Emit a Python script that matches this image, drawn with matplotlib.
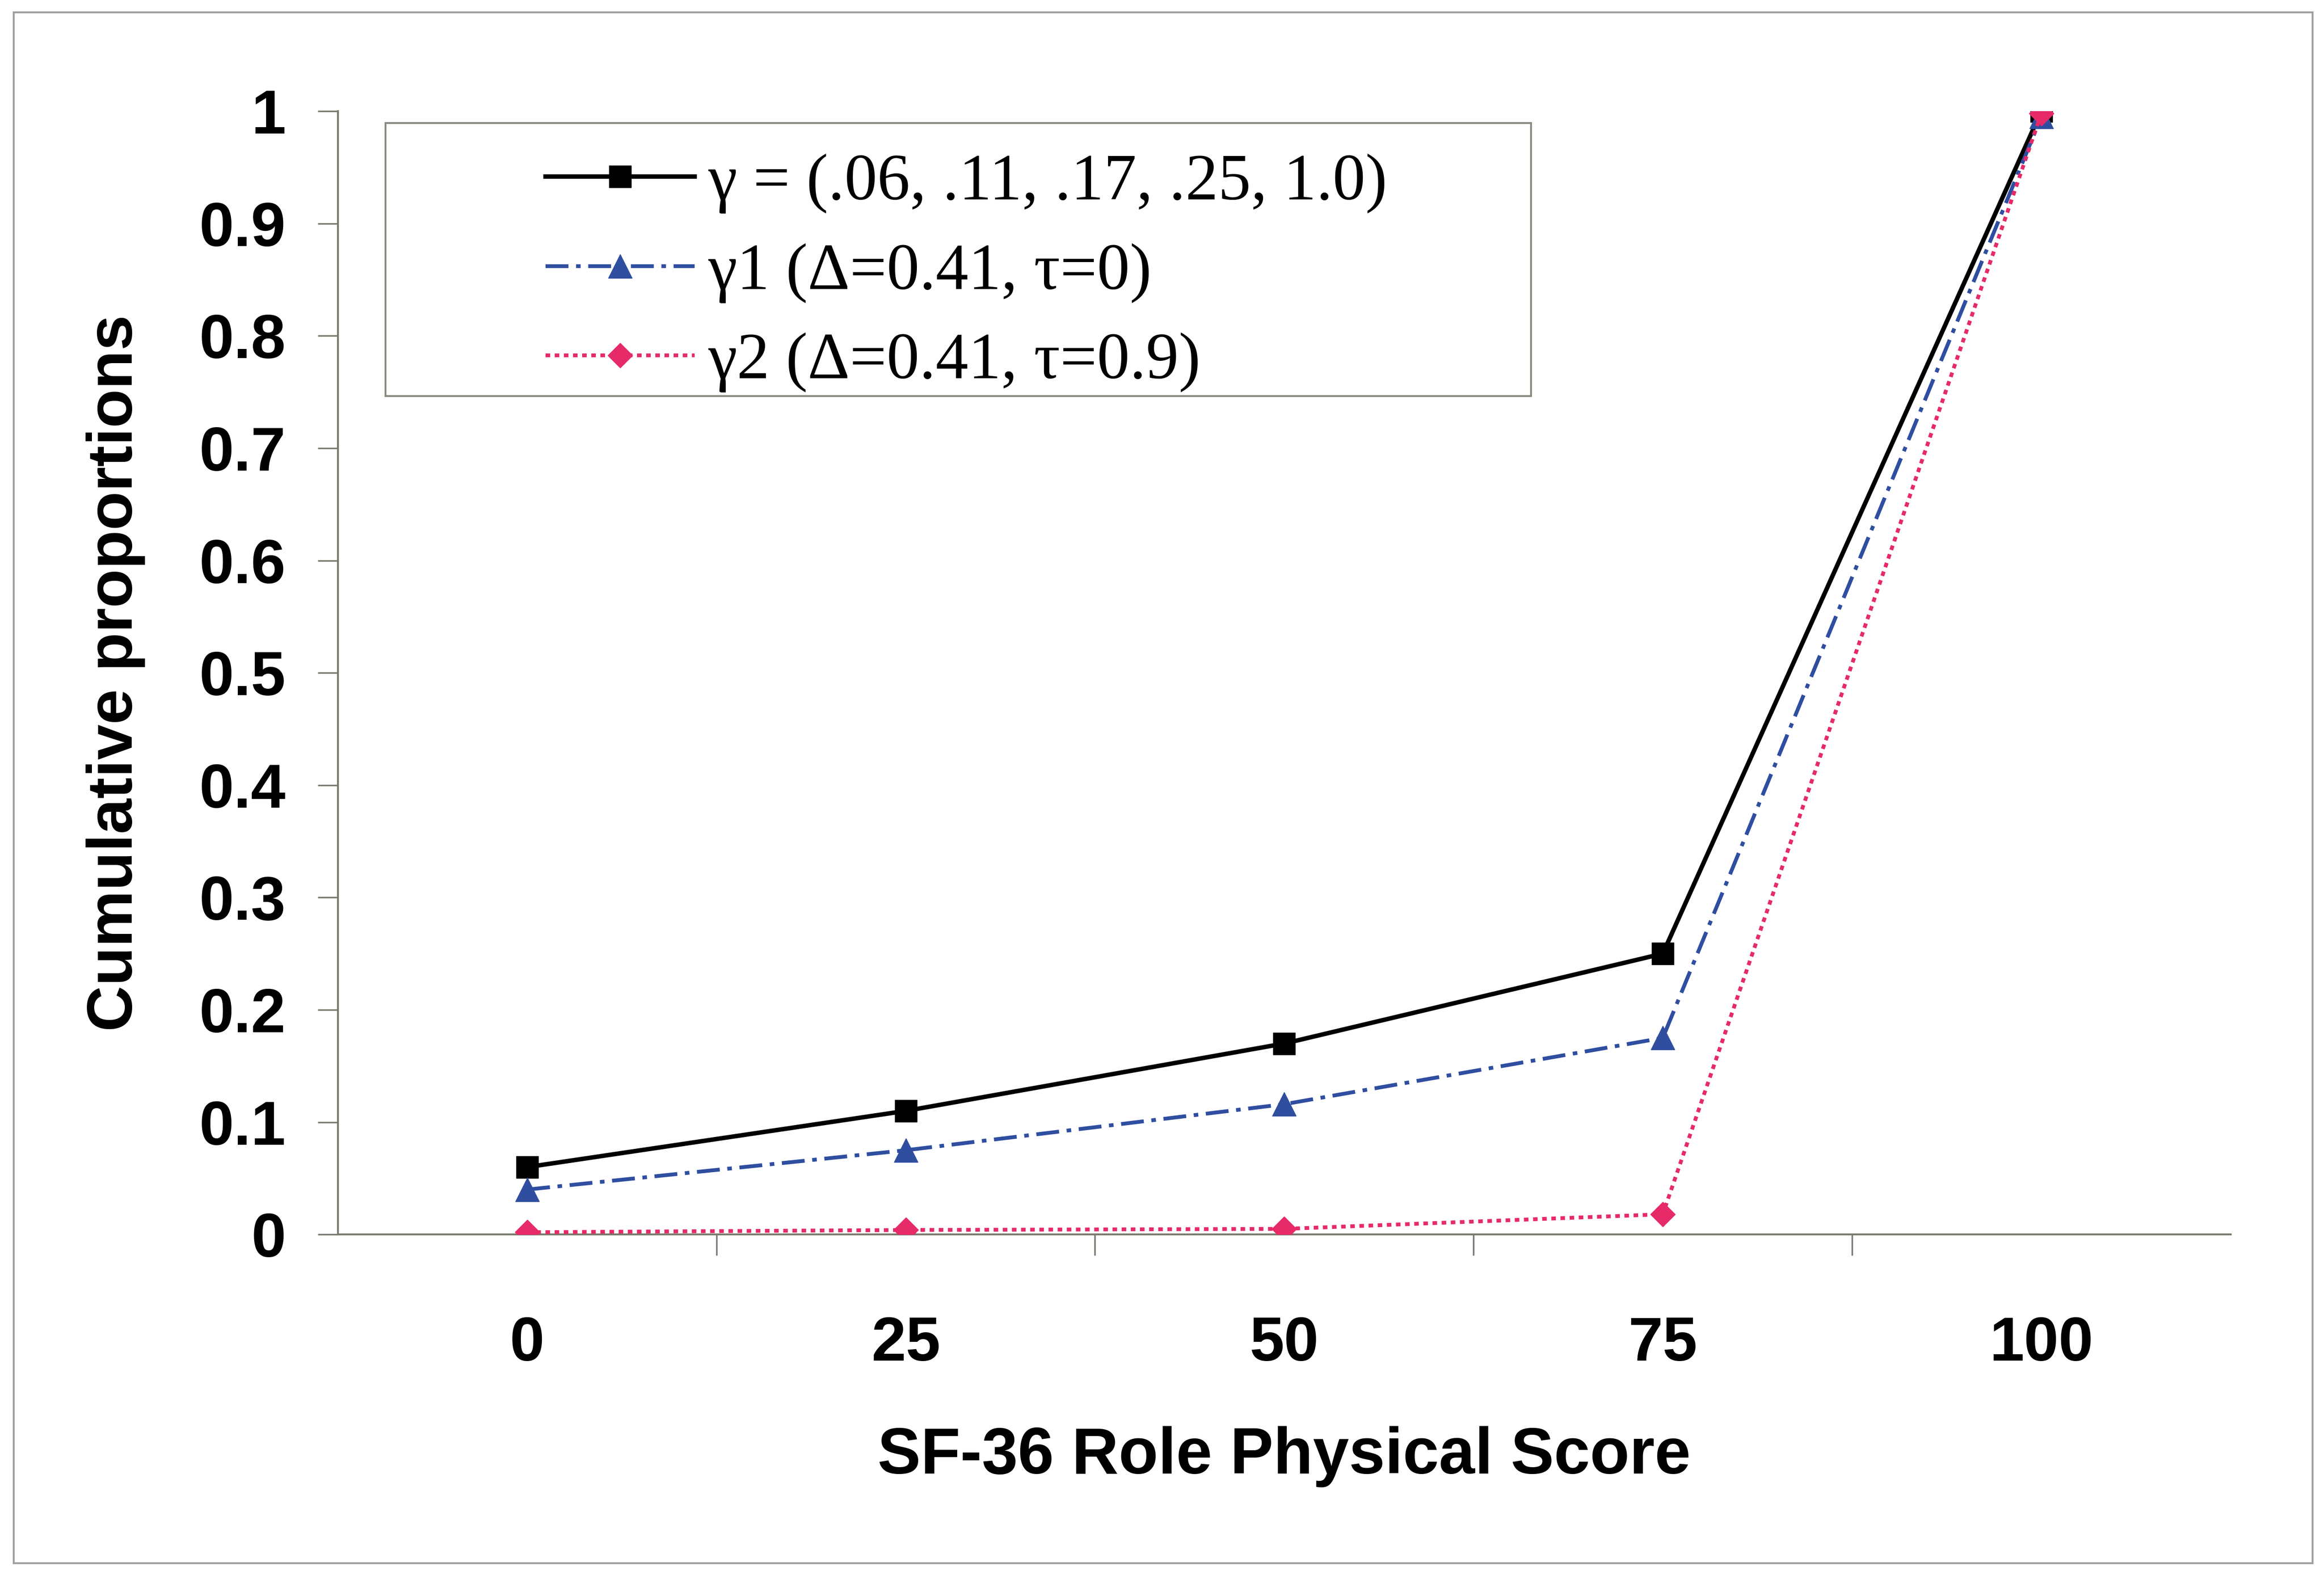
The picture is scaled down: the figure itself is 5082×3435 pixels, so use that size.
import numpy as np
import matplotlib.pyplot as plt
from matplotlib.patches import Rectangle

# Data
scores = ['0', '25', '50', '75', '100']
gamma = [0.06, 0.11, 0.17, 0.25, 1.0]
gamma1 = [0.04, 0.075, 0.116, 0.175, 0.995]
gamma2 = [0.002, 0.004, 0.005, 0.018, 0.998]
labels = ['γ = (.06, .11, .17, .25, 1.0)',
          'γ1 (Δ=0.41, τ=0)',
          'γ2 (Δ=0.41, τ=0.9)']

sans = ['Liberation Sans', 'DejaVu Sans']
serif = ['Liberation Serif', 'DejaVu Serif']

fig = plt.figure(figsize=(50.82, 34.35), dpi=100)
ax = fig.add_axes([0.1454, 0.2142, 0.8144, 0.715])

x = np.arange(len(scores))
l0, = ax.plot(x, gamma, color='black', lw=7, marker='s', ms=34,
              label=labels[0], zorder=3)
l1, = ax.plot(x, gamma1, color='#2f4ea0', lw=6, ls=(0, (6, 2, 1.2, 2)),
              marker='^', ms=38, label=labels[1], zorder=4)
l2, = ax.plot(x, gamma2, color='#e62a68', lw=6, ls=(0, (1.2, 1.2)),
              marker='D', ms=27, label=labels[2], zorder=5)

ax.set_xlim(-0.5, 4.5)
ax.set_ylim(0, 1)
ax.set_yticks(np.arange(0, 1.01, 0.1))
ax.set_yticklabels([f'{v:g}' for v in np.arange(0, 1.01, 0.1)])
ax.set_xticks(x)
ax.set_xticklabels(scores)
ax.set_xticks(np.arange(0.5, 4.5, 1), minor=True)

for s in ['top', 'right']:
    ax.spines[s].set_visible(False)
for s in ['left', 'bottom']:
    ax.spines[s].set_color('#7a7a70')
    ax.spines[s].set_linewidth(3)

ax.tick_params(axis='y', which='major', length=32, width=2.5, color='#7a7a70',
               pad=50, labelsize=98)
ax.tick_params(axis='x', which='major', length=0, pad=128, labelsize=98)
ax.tick_params(axis='x', which='minor', length=33, width=2.5, color='#7a7a70')
for t in ax.get_xticklabels() + ax.get_yticklabels():
    t.set_fontfamily(sans)
    t.set_fontweight('bold')

fig.text(0.0498, 0.5717, 'Cumulative proportions', rotation=90, ha='center',
         va='center', fontsize=100, fontweight='bold', family=sans)
fig.text(0.5526, 0.0727, 'SF-36 Role Physical Score', ha='center', va='center',
         fontsize=102, fontweight='bold', family=sans)

leg = fig.legend(handles=[l0, l1, l2], loc='upper left',
                 bbox_to_anchor=(0.2207, 0.923), frameon=False, borderpad=0,
                 handlelength=2.28, handletextpad=0.2, labelspacing=0.45,
                 prop={'family': serif, 'size': 103})

fig.add_artist(Rectangle((0.1658, 0.748), 0.493, 0.1737, transform=fig.transFigure,
                         fill=False, edgecolor='#8a8a80', lw=3))
fig.add_artist(Rectangle((0.006, 0.005), 0.989, 0.987, transform=fig.transFigure,
                         fill=False, edgecolor='#a0a0a0', lw=3))

fig.savefig('out.png', dpi=100, facecolor='white')
